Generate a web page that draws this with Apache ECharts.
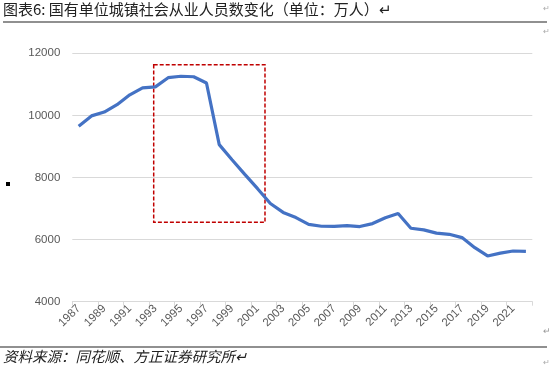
<!DOCTYPE html>
<html><head><meta charset="utf-8">
<script src="https://cdn.jsdelivr.net/npm/echarts@6/dist/echarts.min.js"></script>
<style>html,body{margin:0;padding:0;background:#fff}#c{width:550px;height:372px}</style>
</head><body><div id="c"></div>
<script>
const years = ['1987','1988','1989','1990','1991','1992','1993','1994','1995','1996','1997','1998','1999','2000','2001','2002','2003','2004','2005','2006','2007','2008','2009','2010','2011','2012','2013','2014','2015','2016','2017','2018','2019','2020','2021','2022'];
const employment = [9654,9984,10108,10346,10664,10889,10920,11214,11261,11244,11044,9058,8572,8102,7640,7163,6876,6710,6488,6430,6424,6447,6420,6516,6704,6839,6365,6312,6208,6170,6064,5740,5473,5563,5633,5620];
const yTicks = {min: 4000, max: 12000, interval: 2000};
const boxRange = {x0: 6.37, x1: 15.08, y0: 6557, y1: 11633};
const titleText = '图表6: 国有单位城镇社会从业人员数变化（单位：万人）↵';
const sourceText = '资料来源：同花顺、方正证券研究所↵';

const chart = echarts.init(document.getElementById('c'), null, {renderer: 'canvas'});
const cjk = '"Noto Sans CJK SC", "Liberation Sans", sans-serif';
chart.setOption({
  animation: false,
  backgroundColor: '#fff',
  grid: {left: 72.3, right: 17.7, top: 53.3, bottom: 70.3, containLabel: false},
  xAxis: [{
    type: 'category', data: years, boundaryGap: true,
    axisLine: {show: true, lineStyle: {color: '#d9d9d9', width: 1}},
    axisTick: {show: true, interval: 1, length: 4, lineStyle: {color: '#d9d9d9'}},
    axisLabel: {interval: 1, rotate: 45, color: '#595959', fontSize: 11.5, fontFamily: 'Liberation Sans, Arial, sans-serif', margin: 5},
    splitLine: {show: false}
  }, {
    type: 'value', min: 0, max: years.length, show: false
  }],
  yAxis: {
    type: 'value', min: yTicks.min, max: yTicks.max, interval: yTicks.interval,
    axisLine: {show: false}, axisTick: {show: false},
    axisLabel: {color: '#595959', fontSize: 11.5, fontFamily: 'Liberation Sans, Arial, sans-serif', margin: 12, formatter: v => String(v)},
    splitLine: {lineStyle: {color: '#d9d9d9', width: 1}}
  },
  series: [{
    type: 'line', data: employment, xAxisIndex: 0, symbol: 'none',
    lineStyle: {color: '#4472C4', width: 3.2}, z: 3
  }, {
    type: 'line', data: [], xAxisIndex: 1, symbol: 'none', silent: true,
    markArea: {
      silent: true,
      itemStyle: {color: 'rgba(0,0,0,0)', borderColor: '#C00000', borderWidth: 1.5, borderType: [4, 2]},
      data: [[{coord: [boxRange.x0, boxRange.y1]}, {coord: [boxRange.x1, boxRange.y0]}]]
    }
  }],
  graphic: [
    {type: 'text', left: 3, top: 2, style: {text: titleText, fontSize: 15, fontFamily: cjk, fill: '#222'}},
    {type: 'line', shape: {x1: 3, y1: 22, x2: 547, y2: 22}, style: {stroke: '#222', lineWidth: 1.2}},
    {type: 'text', left: 543, top: 5, style: {text: '↵', fontSize: 8, fill: '#aaa'}},
    {type: 'text', left: 543, top: 28, style: {text: '↵', fontSize: 8, fill: '#aaa'}},
    {type: 'rect', shape: {x: 6, y: 182, width: 4, height: 4}, style: {fill: '#000'}},
    {type: 'text', left: 543, top: 327, style: {text: '↵', fontSize: 9, fill: '#999'}},
    {type: 'line', shape: {x1: 0, y1: 347, x2: 547, y2: 347}, style: {stroke: '#222', lineWidth: 1.2}},
    {type: 'text', left: 3, top: 349, style: {text: sourceText, fontSize: 14.5, fontStyle: 'italic', fontFamily: cjk, fill: '#222'}},
    {type: 'text', left: 543, top: 359, style: {text: '↵', fontSize: 8, fill: '#aaa'}}
  ]
});
</script></body></html>
